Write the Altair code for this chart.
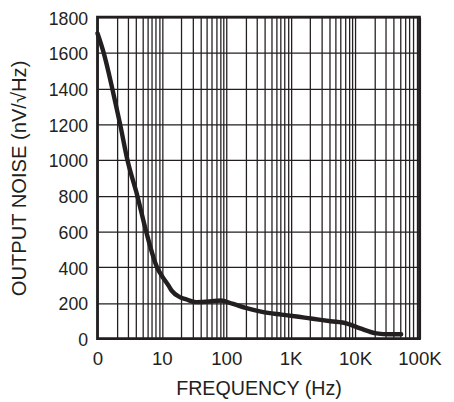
import altair as alt
import pandas as pd

# Curve (frequency in Hz, output noise in nV/sqrt(Hz))
freq_hz = [1, 1.25, 1.7, 2.25, 2.92, 4.16, 5.7, 8.4, 10, 12.7, 14.2, 19, 24,
           34, 55, 82, 124, 200, 360, 720, 1150, 2070, 4180, 7500, 12000, 21500,
           34500, 52000]
noise = [1710, 1600, 1400, 1200, 1000, 800, 600, 400, 352, 297, 269, 233, 220,
         205, 208, 214, 196, 172, 150, 135, 126, 113, 98, 85, 58, 30, 25, 25]

# Axis ticks / labels
x_label_values = [1, 10, 100, 1000, 10000, 100000]
x_label_text = ["0", "10", "100", "1K", "10K", "100K"]
x_grid_values = [d * k for d in [1, 10, 100, 1000, 10000] for k in range(1, 10)] + [100000]
y_values = list(range(0, 1801, 200))

df = pd.DataFrame({"f": freq_hz, "n": noise})

label_expr = " : ".join(
    f"datum.value == {v} ? '{t}'" for v, t in zip(x_label_values, x_label_text)
) + " : ''"

INK = "#231f20"
W, H = 327.5, 327

chart = (
    alt.Chart(df)
    .mark_line(color=INK, strokeWidth=4.5, interpolate="monotone", strokeCap="round")
    .encode(
        x=alt.X(
            "f:Q",
            scale=alt.Scale(type="log", domain=[1, 100000], nice=False),
            axis=alt.Axis(
                title="FREQUENCY (Hz)",
                values=x_grid_values,
                labelExpr=label_expr,
                labelOverlap=False,
                labelFlush=False,
                labelFontSize=19,
                labelBaseline="alphabetic",
                labelPadding=26.5,
                titleBaseline="alphabetic",
                titleX=W / 2,
                titleY=56.5,
            ),
        ),
        y=alt.Y(
            "n:Q",
            scale=alt.Scale(domain=[0, 1800], nice=False),
            axis=alt.Axis(
                title="OUTPUT NOISE (nV/√Hz)",
                values=y_values,
                format="d",
                labelOverlap=False,
                labelFlush=False,
                labelFontSize=18,
                labelBaseline="alphabetic",
                labelOffset=7,
                labelPadding=10,
                titleFontSize=20.5,
                titleAngle=270,
                titleBaseline="middle",
                titleAlign="center",
                titleX=-79,
                titleY=H / 2,
            ),
        ),
    )
    .properties(
        width=W,
        height=H,
        autosize=alt.AutoSizeParams(type="none"),
        padding={"left": 91, "top": 6, "right": 27, "bottom": 61},
    )
    .configure_view(stroke=INK, strokeWidth=2.8)
    .configure_axis(
        domain=False,
        ticks=False,
        grid=True,
        gridColor=INK,
        gridWidth=1.3,
        gridOpacity=1,
        labelFont="Liberation Sans",
        labelColor=INK,
        titleFont="Liberation Sans",
        titleFontSize=20,
        titleFontWeight="normal",
        titleColor=INK,
    )
)

chart.save("out.html", embed_options={"renderer": "svg", "actions": False})
